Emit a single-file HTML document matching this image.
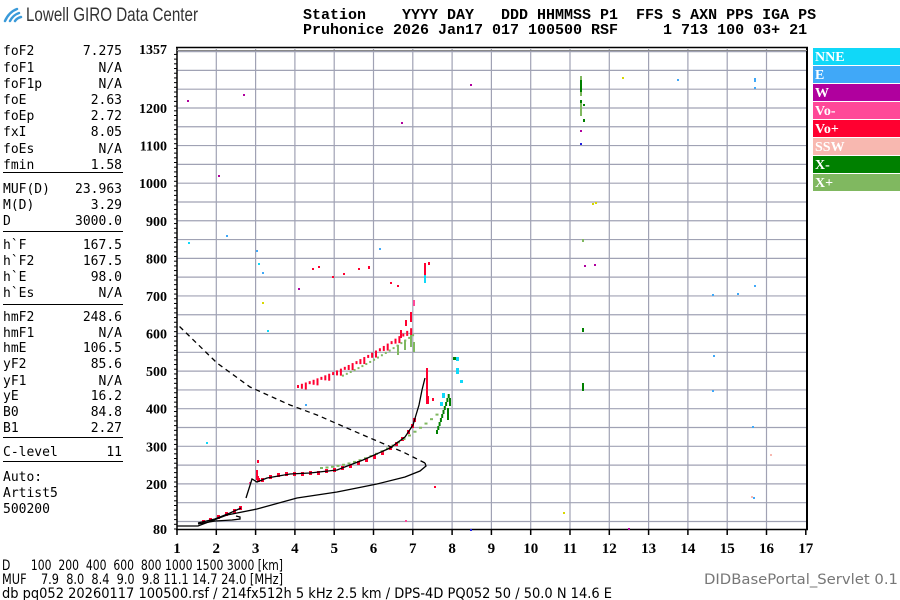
<!DOCTYPE html>
<html><head><meta charset="utf-8"><style>
html,body{margin:0;padding:0;background:#fff;width:900px;height:600px;overflow:hidden}
svg{display:block}
</style></head><body>
<svg id="s" width="900" height="600" xmlns="http://www.w3.org/2000/svg">
<g fill="none" stroke="#3a9ad9" stroke-width="2.5" stroke-linecap="round">
<path d="M5 21 Q9 12 17 9"/><path d="M10 21 Q13 15 19 13"/><path d="M15 21 Q17 18 21 17"/>
</g>
<text x="26" y="21" font-family="Liberation Sans, sans-serif" font-size="19" fill="#333" textLength="172" lengthAdjust="spacingAndGlyphs">Lowell GIRO Data Center</text>
<g font-family="Liberation Mono, monospace" font-size="15" font-weight="bold" fill="#000">
<text x="303" y="19" xml:space="preserve">Station    YYYY DAY   DDD HHMMSS P1  FFS S AXN PPS IGA PS</text>
<text x="303" y="34" xml:space="preserve">Pruhonice 2026 Jan17 017 100500 RSF     1 713 100 03+ 21</text>
</g>
<g font-family="DejaVu Sans Mono, monospace" font-size="13" fill="#000">
<g id="lp"></g>
<g stroke="#000" stroke-width="1">
<line x1="3" y1="172.5" x2="123" y2="172.5"/><line x1="3" y1="231.5" x2="123" y2="231.5"/>
<line x1="3" y1="304.5" x2="123" y2="304.5"/><line x1="3" y1="437.5" x2="123" y2="437.5"/>
<line x1="3" y1="461.5" x2="123" y2="461.5"/>
</g>
<text x="3" y="481">Auto:</text><text x="3" y="497">Artist5</text><text x="3" y="513">500200</text>
</g>
<g id="grid" stroke="#a0a2b4" stroke-width="1.2"></g>
<g id="ax" stroke="#000"></g>
<g id="pts"></g>
<g id="curves" fill="none" stroke="#000" stroke-width="1.3">
<polyline points="177,526 198,526 227,515 257,509 297,498 337,492 377,484 405,477 420,471 426,466 425,463"/>
<polyline stroke-dasharray="5,4" points="425,463 403,452 363,435 317,415 290,405 250,387 217,363 178,325"/>
<polyline points="198,523 215,519 230,513 241,508"/>
<polyline points="246,498 252,479 257,482 267,478 290,474 310,473 337,470 363,460 390,448 405,437 413,425 419,405 422,390 425,378"/>
<polyline points="198,524 215,521 232,520 240,519 240,517 236,516"/>
</g>
<g font-family="Liberation Serif, serif" font-weight="bold" font-size="14" fill="#fff">
<rect x="813" y="48" width="87" height="17" fill="#10d8f8"/><text x="815" y="61">NNE</text>
<rect x="813" y="66" width="87" height="17" fill="#40a8f8"/><text x="815" y="79">E</text>
<rect x="813" y="84" width="87" height="17" fill="#b0009e"/><text x="815" y="97">W</text>
<rect x="813" y="102" width="87" height="17" fill="#ff4898"/><text x="815" y="115">Vo-</text>
<rect x="813" y="120" width="87" height="17" fill="#ff0030"/><text x="815" y="133">Vo+</text>
<rect x="813" y="138" width="87" height="17" fill="#f8b8b0"/><text x="815" y="151">SSW</text>
<rect x="813" y="156" width="87" height="17" fill="#008000"/><text x="815" y="169">X-</text>
<rect x="813" y="174" width="87" height="17" fill="#80b860"/><text x="815" y="187">X+</text>
</g>
<g font-family="DejaVu Sans, sans-serif" font-size="14" fill="#000">
<text x="2" y="570" xml:space="preserve" textLength="281" lengthAdjust="spacingAndGlyphs">D      100  200  400  600  800 1000 1500 3000 [km]</text>
<text x="2" y="584" xml:space="preserve" textLength="281" lengthAdjust="spacingAndGlyphs">MUF    7.9  8.0  8.4  9.0  9.8 11.1 14.7 24.0 [MHz]</text>
<text x="2" y="598" textLength="610" lengthAdjust="spacingAndGlyphs">db pq052 20260117 100500.rsf / 214fx512h 5 kHz 2.5 km / DPS-4D PQ052 50 / 50.0 N 14.6 E</text>
<text x="704" y="584" fill="#777" textLength="194" lengthAdjust="spacingAndGlyphs">DIDBasePortal_Servlet 0.1</text>
</g>
<script>
var NS="http://www.w3.org/2000/svg";
function el(p,t,a,txt){var e=document.createElementNS(NS,t);for(var k in a)e.setAttribute(k,a[k]);if(txt!=null)e.textContent=txt;p.appendChild(e);return e;}
var lp=document.getElementById('lp');
var rows=[["foF2","7.275",50],["foF1","N/A",67],["foF1p","N/A",83],["foE","2.63",99],["foEp","2.72",115],["fxI","8.05",131],["foEs","N/A",148],["fmin","1.58",164],
["MUF(D)","23.963",188],["M(D)","3.29",204],["D","3000.0",220],
["h`F","167.5",244],["h`F2","167.5",260],["h`E","98.0",276],["h`Es","N/A",292],
["hmF2","248.6",316],["hmF1","N/A",332],["hmE","106.5",347],["yF2","85.6",363],["yF1","N/A",380],["yE","16.2",395],["B0","84.8",411],["B1","2.27",427],
["C-level","11",451]];
rows.forEach(function(r){el(lp,'text',{x:3,y:r[2]+5},r[0]);el(lp,'text',{x:122,y:r[2]+5,'text-anchor':'end'},r[1]);});
function X(f){return 177+(f-1)*39.3;}
function Y(h){return 529-(h-80)*0.3759;}
var g=document.getElementById('grid');
for(var f=2;f<=16;f++)el(g,'line',{x1:X(f),y1:49,x2:X(f),y2:529});
for(var h=100;h<=1350;h+=50)el(g,'line',{x1:177,y1:Y(h),x2:807,y2:Y(h)});
var ax=document.getElementById('ax');
el(ax,'line',{x1:177,y1:47,x2:177,y2:530,'stroke-width':1.5});
el(ax,'line',{x1:807,y1:47,x2:807,y2:530,'stroke-width':2});
el(ax,'line',{x1:176,y1:529.5,x2:808,y2:529.5,'stroke-width':1.5});
el(ax,'line',{x1:176,y1:47.5,x2:808,y2:47.5,'stroke-width':1.5});
el(ax,'line',{x1:177,y1:50.5,x2:807,y2:50.5,'stroke-width':1,stroke:'#888'});
for(var h=80;h<=1350;h+=12.5){var yy=Y(h);var L=(h%100==0)?5:3;el(ax,'line',{x1:177-L,y1:yy,x2:177,y2:yy,'stroke-width':1});}
for(var f=1;f<=17;f++)el(ax,'line',{x1:X(f),y1:529,x2:X(f),y2:535,'stroke-width':1.5});
var lab=el(ax,'g',{'font-family':'Liberation Serif, serif','font-weight':'bold','font-size':'14',fill:'#000',stroke:'none'});
el(lab,'text',{x:167,y:54,'text-anchor':'end'},"1357");
for(var h=200;h<=1200;h+=100)el(lab,'text',{x:167,y:Y(h)+5,'text-anchor':'end'},h);
el(lab,'text',{x:167,y:534,'text-anchor':'end'},"80");
var xl=el(ax,'g',{'font-family':'Liberation Serif, serif','font-weight':'bold','font-size':'15',fill:'#000',stroke:'none'});
for(var f=1;f<=17;f++)el(xl,'text',{x:X(f),y:553,'text-anchor':'middle'},f);
var P=document.getElementById('pts');
var C={n:'#10d8f8',e:'#40a8f8',w:'#b0009e',vm:'#ff4898',vp:'#ff0030',s:'#f8b8b0',xm:'#008000',xp:'#80b860',y:'#d8d800',b:'#2020e0'};
function d(x,y,c,w,h){el(P,'rect',{x:x,y:y,width:w||2,height:h||2,fill:c});}
var o=[[203,522],[210,520],[218,517],[226,514],[234,511],[240,508],[257,478],[262,480],[270,477],[278,475],[286,474],[294,474],[302,474],[310,473],[318,473],[326,471],[334,470],[342,468],[350,466],[358,463],[366,460],[374,457],[382,453],[390,448],[396,444],[402,439],[408,432],[412,426],[414,420]];
o.forEach(function(p){d(p[0]-1,p[1]-2,C.vp,3,4);});
d(426,368,C.vp,2,30);d(426,396,C.vp,3,8);d(432,398,C.vp,2,3);
for(var i=0;i<22;i++){var x=320+i*5.5;var y=467-Math.pow(i/21,2)*45-i*0.4;d(x,y,C.xp,3,2);}
for(var i=0;i<10;i++){d(436+i*1.3,430-i*4,C.xm,2,4);}
d(447,408,C.xm,2,12);d(449,398,C.xm,2,8);
for(var i=0;i<30;i++){var x=297+i*3.9;var y=385-i*1.2-Math.pow(i/29,2)*22;d(x,y,C.vp,2,3+(i%3)*2);if(i>10)d(x+2,y+6,C.xp,2,2);}
d(400,330,C.vp,2,8);d(405,320,C.vp,2,6);d(410,312,C.vp,2,10);d(413,300,C.vm,2,6);d(424,263,C.vp,2,20);d(424,275,C.n,2,8);d(428,262,C.vp,2,3);
d(397,345,C.xp,2,10);d(404,340,C.xp,2,10);d(410,335,C.xp,2,12);d(413,342,C.xp,2,10);
d(453,357,C.xm,3,3);d(456,357,C.n,3,4);d(456,368,C.n,3,6);d(460,380,C.n,3,3);d(442,393,C.n,3,5);d(440,402,C.n,3,4);
d(312,268,C.vp,2,2);d(318,266,C.vp,2,2);d(332,276,C.vp,2,2);d(343,273,C.vp,2,2);d(358,268,C.vp,2,2);d(368,266,C.vp,2,3);d(390,282,C.vp,2,2);d(397,285,C.vp,2,2);
d(257,460,C.vp,2,3);d(256,470,C.vp,2,6);d(257,478,C.vp,3,4);d(249,482,C.vm,2,2);
[[187,100,C.w],[218,175,C.w],[243,94,C.w],[401,122,C.w],[298,288,C.w],[584,265,C.w],[594,264,C.w],[628,528,C.w],[751,496,C.s],[226,235,C.e],[256,250,C.e],[258,263,C.n],[262,272,C.e],[267,330,C.n],[188,242,C.n],[206,442,C.n],[622,77,C.y],[592,203,C.y],[563,512,C.y],[262,302,C.y],[677,79,C.e],[754,78,C.e],[754,87,C.e],[754,80,C.e],[737,293,C.e],[712,294,C.e],[754,285,C.e],[712,390,C.e],[713,355,C.e],[752,426,C.e],[753,497,C.e],[770,454,C.s],[405,520,C.vm],[470,84,C.w],[434,486,C.vp],[379,248,C.e],[305,404,C.e]].forEach(function(p){d(p[0],p[1],p[2],2,2);});
d(580,76,C.xp,2,20);d(580,80,C.xm,2,12);d(580,100,C.xp,2,16);d(580,100,C.xm,2,3);d(583,119,C.xm,2,3);
d(582,239,C.xp,2,3);d(582,328,C.xm,2,4);d(582,383,C.xm,2,8);d(580,130,C.w,2,2);d(580,143,C.b,2,2);d(583,104,C.xm,2,2);
d(470,529,C.b,2,2);d(595,202,C.y,2,2);
</script>
</svg>
</body></html>
